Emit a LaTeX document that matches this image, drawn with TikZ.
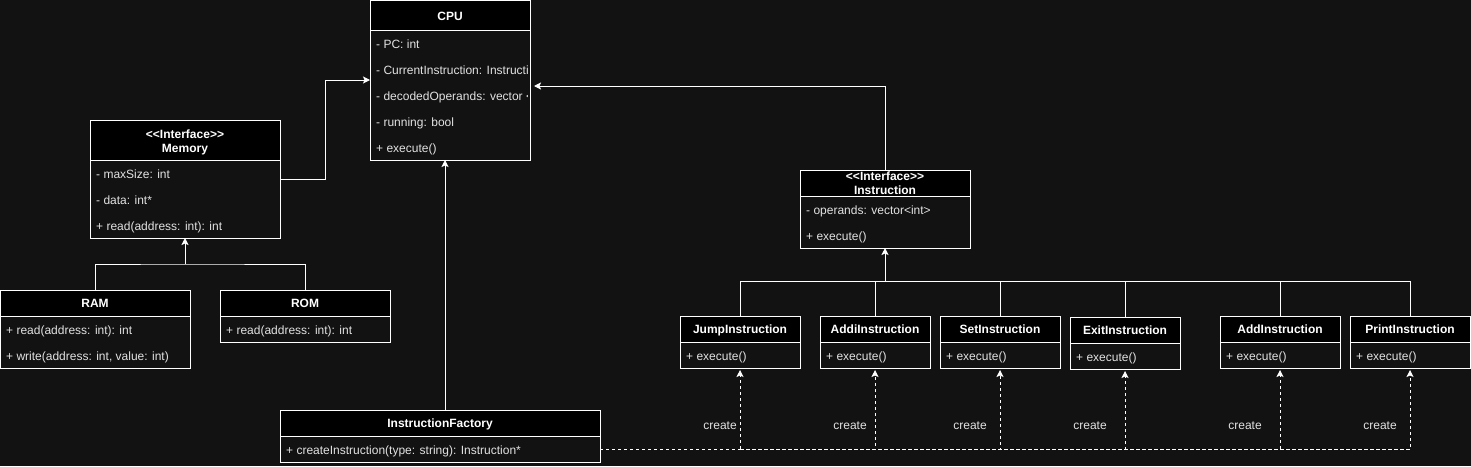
\documentclass[tikz,border=0pt]{standalone}
\usepackage{fontspec}
\setmainfont{Liberation Sans}
\usetikzlibrary{arrows.meta,calc}
\definecolor{bg}{RGB}{18,18,18}
\definecolor{fg}{RGB}{226,226,226}
\begin{document}
\begin{tikzpicture}[x=1pt,y=-1pt,
  box/.style={draw=white,line width=1pt,fill=bg,anchor=north west,inner sep=0pt,outer sep=0pt},
  head/.style={draw=white,line width=1pt,fill=black,anchor=north west,inner sep=0pt,outer sep=0pt},
  ttl/.style={anchor=base,inner sep=0pt,text=white,font=\bfseries\fontsize{12}{14}\selectfont},
  row/.style={anchor=base west,inner sep=0pt,text=fg,font=\fontsize{12}{14}\selectfont},
  lbl/.style={anchor=base,inner sep=0pt,text=fg,font=\fontsize{12}{14}\selectfont},
  conn/.style={draw=white,line width=1pt},
  arr/.style={-{Stealth[length=7pt,width=7pt,inset=1.5pt]}},
  dsh/.style={dash pattern=on 3.5pt off 2.5pt},
  dts/.style={dash pattern=on 2.5pt off 3.5pt}]
\fill[bg] (0,0) rectangle (1471,466);
\useasboundingbox (0,0) rectangle (1471,466);

% CPU
\node[box,minimum width=160pt,minimum height=160pt] (cpu) at (370,0) {};
\node[head,minimum width=160pt,minimum height=30pt] (cpuh) at (370,0) {};
\node[ttl] (cput) at (450,20) {CPU};
\begin{scope}
\clip (370,30) rectangle (527,160);
\node[row] (cpu1) at (376,48) {- PC: int};
\node[row] (cpu2) at (376,74) {- CurrentInstruction: Instruction*};
\node[row] (cpu3) at (376,100) {- decodedOperands: vector <int>};
\node[row] (cpu4) at (376,126) {- running: bool};
\node[row] (cpu5) at (376,152) {+ execute()};
\end{scope}

% Memory
\node[box,minimum width=190pt,minimum height=118pt] (mem) at (90,120) {};
\node[head,minimum width=190pt,minimum height=40pt] (memh) at (90,120) {};
\node[ttl] (memt1) at (185,138.5) {<{}<Interface>{}>};
\node[ttl] (memt2) at (185,152) {Memory};
\node[row] (mem1) at (96,178) {- maxSize: int};
\node[row] (mem2) at (96,204) {- data: int*};
\node[row] (mem3) at (96,230) {+ read(address: int): int};

% RAM
\node[box,minimum width=190pt,minimum height=78pt] (ram) at (0,290) {};
\node[head,minimum width=190pt,minimum height=26pt] (ramh) at (0,290) {};
\node[ttl] (ramt) at (95,307.5) {RAM};
\node[row] (ram1) at (6,334) {+ read(address: int): int};
\node[row] (ram2) at (6,360) {+ write(address: int, value: int)};

% ROM
\node[box,minimum width=170pt,minimum height=52pt] (rom) at (220,290) {};
\node[head,minimum width=170pt,minimum height=26pt] (romh) at (220,290) {};
\node[ttl] (romt) at (305,307.5) {ROM};
\node[row] (rom1) at (226,334) {+ read(address: int): int};

% InstructionFactory
\node[box,minimum width=320pt,minimum height=52pt] (fac) at (280,410) {};
\node[head,minimum width=320pt,minimum height=26pt] (fach) at (280,410) {};
\node[ttl] (fact) at (440,427.5) {InstructionFactory};
\node[row] (fac1) at (286,454) {+ createInstruction(type: string): Instruction*};

% Instruction interface
\node[box,minimum width=170pt,minimum height=78pt] (ins) at (800,170) {};
\node[head,minimum width=170pt,minimum height=26pt] (insh) at (800,170) {};
\node[ttl] (inst1) at (885,180.7) {<{}<Interface>{}>};
\node[ttl] (inst2) at (885,194.7) {Instruction};
\node[row] (ins1) at (806,214) {- operands: vector<int>};
\node[row] (ins2) at (806,240) {+ execute()};

% Subclasses
\node[box,minimum width=120pt,minimum height=52pt] (jmp) at (680,316) {};
\node[head,minimum width=120pt,minimum height=26pt] (jmph) at (680,316) {};
\node[ttl] (jmpt) at (740,333.5) {JumpInstruction};
\node[row] (jmp1) at (686,360) {+ execute()};

\node[box,minimum width=110pt,minimum height=52pt] (addi) at (820,316) {};
\node[head,minimum width=110pt,minimum height=26pt] (addih) at (820,316) {};
\node[ttl] (addit) at (875,333.5) {AddiInstruction};
\node[row] (addi1) at (826,360) {+ execute()};

\node[box,minimum width=120pt,minimum height=52pt] (set) at (940,316) {};
\node[head,minimum width=120pt,minimum height=26pt] (seth) at (940,316) {};
\node[ttl] (sett) at (1000,333.5) {SetInstruction};
\node[row] (set1) at (946,360) {+ execute()};

\node[box,minimum width=110pt,minimum height=52pt] (exit) at (1070,317) {};
\node[head,minimum width=110pt,minimum height=26pt] (exith) at (1070,317) {};
\node[ttl] (exitt) at (1125,334.5) {ExitInstruction};
\node[row] (exit1) at (1076,361) {+ execute()};

\node[box,minimum width=120pt,minimum height=52pt] (add) at (1220,316) {};
\node[head,minimum width=120pt,minimum height=26pt] (addh) at (1220,316) {};
\node[ttl] (addt) at (1280,333.5) {AddInstruction};
\node[row] (add1) at (1226,360) {+ execute()};

\node[box,minimum width=120pt,minimum height=52pt] (prt) at (1350,316) {};
\node[head,minimum width=120pt,minimum height=26pt] (prth) at (1350,316) {};
\node[ttl] (prtt) at (1410,333.5) {PrintInstruction};
\node[row] (prt1) at (1356,360) {+ execute()};

% Connectors
\draw[conn,arr] (mem.east) -- ++(45,0) |- (cpu.west);
\draw[conn,arr] (ins.north) |- ([shift={(4,6)}]cpu.east);
\draw[conn,arr] ([xshift=5pt]fac.north) -- ([xshift=-5pt]cpu.south);

\coordinate (mj) at (185,264);
\draw[conn] (ram.north) |- (mj) -| (rom.north);
\draw[conn,arr] (mj) -- (mem.south);

\coordinate (ij) at (885,281);
\draw[conn] (jmp.north) |- (ij);
\draw[conn] (addi.north) |- (ij);
\draw[conn] (set.north) |- (ij);
\draw[conn] (exit.north) |- (ij);
\draw[conn] (add.north) |- (ij);
\draw[conn] (prt.north) |- (ij);
\draw[conn,arr] (ij) -- (ins.south);

\coordinate (fj) at (740,449);
\draw[conn,dts] ([yshift=-13pt]fac.east) -- (fj);
\draw[conn,dsh,arr] (fj) -- ([yshift=-2pt]jmp.south);
\draw[conn,dsh,arr] (fj) -| ([yshift=-2pt]addi.south);
\draw[conn,dsh,arr] (fj) -| ([yshift=-2pt]set.south);
\draw[conn,dsh,arr] (fj) -| ([yshift=-2pt]exit.south);
\draw[conn,dsh,arr] (fj) -| ([yshift=-2pt]add.south);
\draw[conn,dsh,arr] (fj) -| ([yshift=-2pt]prt.south);

\node[lbl] (c1) at (720,429) {create};
\node[lbl] (c2) at (850,429) {create};
\node[lbl] (c3) at (970,429) {create};
\node[lbl] (c4) at (1090,429) {create};
\node[lbl] (c5) at (1245,429) {create};
\node[lbl] (c6) at (1380,429) {create};
\end{tikzpicture}
\end{document}
